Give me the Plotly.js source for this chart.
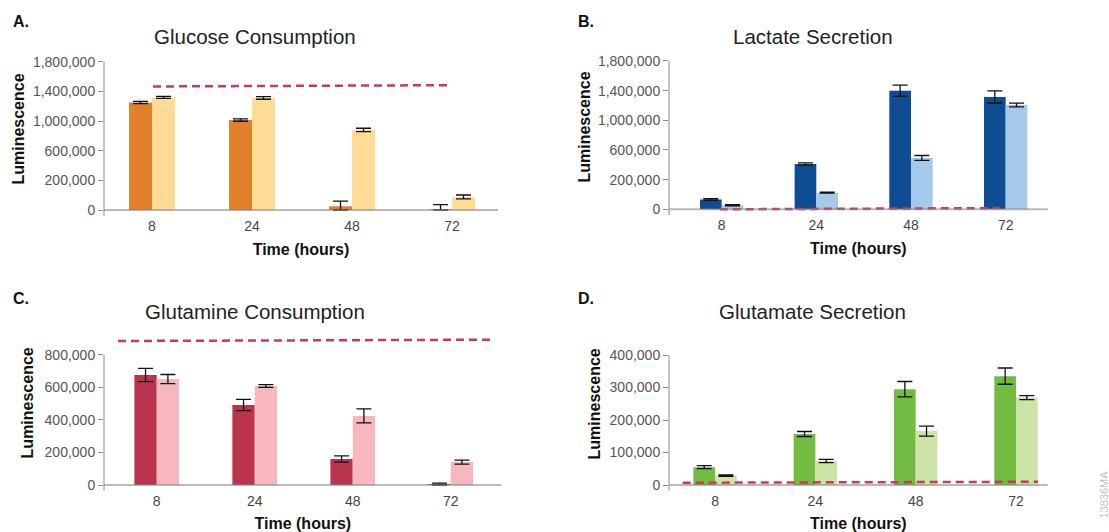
<!DOCTYPE html>
<html><head><meta charset="utf-8">
<script src="https://cdn.plot.ly/plotly-3.0.1.min.js"></script>
<style>html,body{margin:0;padding:0;background:#fff}#chart{width:1109px;height:532px}</style>
</head><body><div id="chart"></div>
<script>
// ---------- data ----------
const timeLabels = ['8', '24', '48', '72'];
const timeIndex = [0, 1, 2, 3];

// A. Glucose Consumption
const glucoseDark = [1305000, 1091000, 45000, 10000];
const glucoseDarkErrPlus = [14000, 14000, 64000, 55000];
const glucoseDarkErrMinus = [14000, 14000, 45000, 10000];
const glucoseLight = [1366000, 1360000, 972000, 158000];
const glucoseLightErr = [12000, 16000, 20000, 24000];
const glucoseRefX = [0.01, 2.96];
const glucoseRefY = [1499000, 1515000];
const glucoseTickVals = [0, 360000, 720000, 1080000, 1440000, 1800000];
const glucoseTickText = ['0', '200,000', '600,000', '1,000,000', '1,400,000', '1,800,000'];

// B. Lactate Secretion
const lactateDark = [118000, 550000, 1439000, 1363000];
const lactateDarkErr = [10000, 13000, 69000, 73000];
const lactateLight = [49000, 202000, 623000, 1266000];
const lactateLightErr = [6000, 6000, 30000, 22000];
const lactateRefX = [-0.02, 2.97];
const lactateRefY = [0, 15000];
const lactateTickVals = [0, 360000, 720000, 1080000, 1440000, 1800000];
const lactateTickText = ['0', '200,000', '600,000', '1,000,000', '1,400,000', '1,800,000'];

// C. Glutamine Consumption
const glutamineDark = [677000, 492000, 160000, 6000];
const glutamineDarkErr = [41000, 35000, 19500, 6000];
const glutamineLight = [652000, 609000, 425000, 141000];
const glutamineLightErr = [28000, 8000, 43000, 12000];
const glutamineRefX = [-0.395, 3.42];
const glutamineRefY = [886000, 894000];
const glutamineTickVals = [0, 200000, 400000, 600000, 800000];
const glutamineTickText = ['0', '200,000', '400,000', '600,000', '800,000'];

// D. Glutamate Secretion
const glutamateDark = [55000, 157000, 295000, 335000];
const glutamateDarkErr = [4600, 7700, 23600, 25000];
const glutamateLight = [29000, 74000, 166000, 269000];
const glutamateLightErr = [2000, 5000, 15400, 6000];
const glutamateRefX = [-0.322, 3.22];
const glutamateRefY = [7000, 10000];
const glutamateTickVals = [0, 100000, 200000, 300000, 400000];
const glutamateTickText = ['0', '100,000', '200,000', '300,000', '400,000'];

// ---------- styling / layout ----------
const W = 1109, H = 532;
const tickFont = {family: 'Liberation Sans, Arial, sans-serif', size: 14, color: '#555'};
const xTickFont = {family: 'Liberation Sans, Arial, sans-serif', size: 14, color: '#444'};
const axTitleFont = {family: 'Liberation Sans, Arial, sans-serif', size: 16, color: '#111', weight: 'bold'};
const refLine = {color: '#C73A5B', width: 2.5, dash: '8px,5px'};

const panels = [
  {id: '', dark: glucoseDark, darkErr: glucoseDarkErrPlus, darkErrMinus: glucoseDarkErrMinus,
   light: glucoseLight, lightErr: glucoseLightErr, refX: glucoseRefX, refY: glucoseRefY,
   tv: glucoseTickVals, tt: glucoseTickText, c1: '#E1802A', c2: '#FEDC96',
   px: [104, 498], py: [216, 42], xr: [-0.48, 3.46], yr: [-72700, 2039000], bw: 0.23, ysd: 4},
  {id: '2', dark: lactateDark, darkErr: lactateDarkErr, darkErrMinus: lactateDarkErr,
   light: lactateLight, lightErr: lactateLightErr, refX: lactateRefX, refY: lactateRefY,
   tv: lactateTickVals, tt: lactateTickText, c1: '#0E4D92', c2: '#A4C9EA',
   px: [669, 1047.7], py: [215, 39], xr: [-0.556, 3.444], yr: [-69200, 2066600], bw: 0.229, ysd: 3},
  {id: '3', dark: glutamineDark, darkErr: glutamineDarkErr, darkErrMinus: glutamineDarkErr,
   light: glutamineLight, lightErr: glutamineLightErr, refX: glutamineRefX, refY: glutamineRefY,
   tv: glutamineTickVals, tt: glutamineTickText, c1: '#BB344E', c2: '#F8B6BE',
   px: [104, 501.7], py: [490.7, 315], xr: [-0.538, 3.52], yr: [-35100, 1046000], bw: 0.228, ysd: 6},
  {id: '4', dark: glutamateDark, darkErr: glutamateDarkErr, darkErrMinus: glutamateDarkErr,
   light: glutamateLight, lightErr: glutamateLightErr, refX: glutamateRefX, refY: glutamateRefY,
   tv: glutamateTickVals, tt: glutamateTickText, c1: '#72BC42', c2: '#CCE4A6',
   px: [669, 1047.7], py: [490.7, 317], xr: [-0.459, 3.316], yr: [-17500, 517000], bw: 0.216, ysd: 4}
];

const traces = [];
const layout = {
  width: W, height: H,
  margin: {l: 0, r: 0, t: 0, b: 0},
  paper_bgcolor: '#fff', plot_bgcolor: 'rgba(0,0,0,0)',
  showlegend: false, barmode: 'overlay', hovermode: false,
  font: {family: 'Liberation Sans, Arial, sans-serif', color: '#222'},
  shapes: [], annotations: []
};

panels.forEach(p => {
  const xa = 'x' + p.id, ya = 'y' + p.id;
  const errStyle = {color: '#111', thickness: 1.3, width: 7.5};
  traces.push({
    type: 'bar', x: timeIndex, y: p.dark, xaxis: xa, yaxis: ya,
    width: p.bw, offset: -p.bw, marker: {color: p.c1, line: {width: 0}},
    error_y: Object.assign({type: 'data', symmetric: false, array: p.darkErr, arrayminus: p.darkErrMinus}, errStyle)
  });
  traces.push({
    type: 'bar', x: timeIndex, y: p.light, xaxis: xa, yaxis: ya,
    width: p.bw, offset: 0, marker: {color: p.c2, line: {width: 0}},
    error_y: Object.assign({type: 'data', symmetric: true, array: p.lightErr}, errStyle)
  });
  traces.push({
    type: 'scatter', mode: 'lines', x: p.refX, y: p.refY, xaxis: xa, yaxis: ya,
    line: refLine
  });
  layout['xaxis' + p.id] = {
    domain: [p.px[0] / W, p.px[1] / W], anchor: ya, range: p.xr,
    tickmode: 'array', tickvals: timeIndex, ticktext: timeLabels,
    showgrid: false, zeroline: false, showline: false, ticks: '',
    tickfont: xTickFont, fixedrange: true,
    title: {text: 'Time (hours)', font: axTitleFont, standoff: 10}
  };
  layout['yaxis' + p.id] = {
    domain: [1 - p.py[0] / H, 1 - p.py[1] / H], anchor: xa, range: p.yr,
    tickmode: 'array', tickvals: p.tv, ticktext: p.tt,
    showgrid: false, zeroline: false, showline: false,
    ticks: 'outside', ticklen: 5, tickcolor: '#8c8c8c', tickwidth: 1,
    tickfont: tickFont, fixedrange: true,
    title: {text: 'Luminescence', font: axTitleFont, standoff: p.ysd}
  };
  // y axis line (from plot bottom to top tick)
  layout.shapes.push({type: 'line', xref: xa + ' domain', yref: ya, x0: 0, x1: 0,
    y0: p.yr[0], y1: p.tv[p.tv.length - 1], line: {color: '#8c8c8c', width: 1}, layer: 'above'});
  // baseline at zero
  layout.shapes.push({type: 'line', xref: xa + ' domain', yref: ya, x0: 0, x1: 1,
    y0: 0, y1: 0, line: {color: 'rgba(128,128,128,0.55)', width: 2}, layer: 'above'});
});

const letterFont = {family: 'Liberation Sans, Arial, sans-serif', size: 16, color: '#111', weight: 'bold'};
const titleFont = {family: 'Liberation Sans, Arial, sans-serif', size: 20.5, color: '#222'};
function ann(text, x, y, font, xanchor, extra) {
  return Object.assign({text, x: x / W, y: 1 - y / H, xref: 'paper', yref: 'paper',
    showarrow: false, font, xanchor: xanchor || 'center', yanchor: 'middle'}, extra || {});
}
layout.annotations.push(
  ann('A.', 11, 21.5, letterFont, 'left'),
  ann('B.', 576, 21.5, letterFont, 'left'),
  ann('C.', 11, 298.5, letterFont, 'left'),
  ann('D.', 576, 298.5, letterFont, 'left'),
  ann('Glucose Consumption', 255, 36, titleFont),
  ann('Lactate Secretion', 812.5, 36, titleFont),
  ann('Glutamine Consumption', 254.7, 311, titleFont),
  ann('Glutamate Secretion', 812.7, 311, titleFont),
  ann('13836MA', 1103, 494.5, {family: 'Liberation Sans, Arial, sans-serif', size: 11, color: '#c4c4c4'}, 'center', {textangle: -90})
);

Plotly.newPlot('chart', traces, layout, {staticPlot: true, displayModeBar: false});
</script>
</body></html>
